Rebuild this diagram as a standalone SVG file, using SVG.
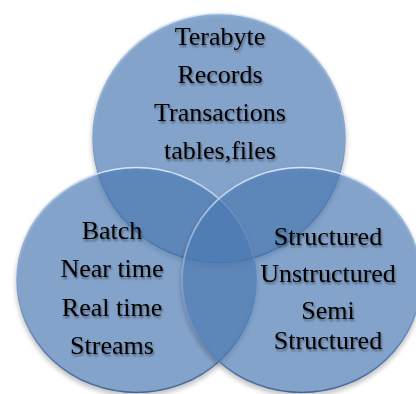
<svg xmlns="http://www.w3.org/2000/svg" width="416" height="394" viewBox="0 0 416 394">
  <defs>
    <!-- rim: light bevel on top, darker toward the bottom -->
    <linearGradient id="rim" x1="0" y1="0" x2="0" y2="1">
      <stop offset="0" stop-color="#d6e6f7"/>
      <stop offset="0.25" stop-color="#9db8dc"/>
      <stop offset="0.7" stop-color="#6f8fbd"/>
      <stop offset="1" stop-color="#4a6996"/>
    </linearGradient>
    <filter id="drop" x="-10%" y="-10%" width="120%" height="125%">
      <feGaussianBlur in="SourceAlpha" stdDeviation="2.5"/>
      <feOffset dx="0" dy="3" result="b"/>
      <feComponentTransfer>
        <feFuncA type="linear" slope="0.35"/>
      </feComponentTransfer>
      <feMerge>
        <feMergeNode/>
        <feMergeNode in="SourceGraphic"/>
      </feMerge>
    </filter>
    <filter id="tshadow" x="-10%" y="-30%" width="120%" height="160%">
      <feGaussianBlur in="SourceAlpha" stdDeviation="1.3"/>
      <feOffset dx="1" dy="1.5"/>
      <feComponentTransfer>
        <feFuncA type="linear" slope="0.45"/>
      </feComponentTransfer>
      <feMerge>
        <feMergeNode/>
        <feMergeNode in="SourceGraphic"/>
      </feMerge>
    </filter>
  </defs>
  <style>
    .set { fill: #4f81bd; fill-opacity: 0.6; stroke: url(#rim); stroke-width: 1.6; filter: url(#drop); }
    .label { font-family: "Liberation Serif", "Times New Roman", serif; font-size: 26px; fill: #000; text-anchor: middle; filter: url(#tshadow); }
  </style>

  <rect width="416" height="394" fill="#ffffff"/>

  <!-- volume -->
  <g id="node-volume">
    <ellipse class="set" cx="219" cy="138" rx="126" ry="124.5"/>
    <text class="label" x="220" y="45">Terabyte</text>
    <text class="label" x="220" y="83">Records</text>
    <text class="label" x="220" y="121">Transactions</text>
    <text class="label" x="220" y="159">tables,files</text>
  </g>

  <!-- velocity -->
  <g id="node-velocity">
    <ellipse class="set" cx="136.5" cy="280" rx="119.5" ry="112.5"/>
    <text class="label" x="112" y="239">Batch</text>
    <text class="label" x="112" y="277">Near time</text>
    <text class="label" x="112" y="316">Real time</text>
    <text class="label" x="112" y="354">Streams</text>
  </g>

  <!-- variety -->
  <g id="node-variety">
    <ellipse class="set" cx="301.5" cy="280" rx="119.5" ry="112.5"/>
    <text class="label" x="328" y="245">Structured</text>
    <text class="label" x="328" y="282">Unstructured</text>
    <text class="label" x="328" y="319">Semi</text>
    <text class="label" x="328" y="349">Structured</text>
  </g>

  <g id="connectors"/>
</svg>
